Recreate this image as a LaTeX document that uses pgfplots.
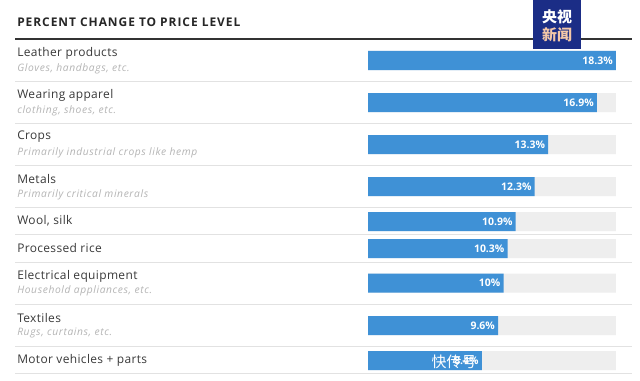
\documentclass[border=0pt]{standalone}
\usepackage{pgfplots}
\pgfplotsset{compat=1.18}
\usepackage{fontspec}
\setmainfont{Open Sans}
\newfontfamily\cjk{Noto Sans CJK SC}
\definecolor{barblue}{HTML}{3F91D6}
\definecolor{track}{HTML}{EEEEEE}
\definecolor{sep}{HTML}{E2E2E2}
\definecolor{labc}{HTML}{3A3A3A}
\definecolor{subc}{HTML}{B4B4B4}
\definecolor{navy}{HTML}{1B2D86}
\definecolor{peach}{HTML}{F3C7A8}
\newcommand\lab[2]{\node[anchor=west,inner sep=0pt,text=labc,font=\fontsize{12}{13}\selectfont\addfontfeature{LetterSpace=3}] at (axis cs:-25.9,#1) {#2};}
\newcommand\sub[2]{\node[anchor=west,inner sep=0pt,text=subc,font=\itshape\fontsize{10.3}{11}\selectfont\addfontfeature{LetterSpace=6}] at (axis cs:-25.9,#1) {#2};}
\newcommand\sep[1]{\draw[sep,line width=1bp] (axis cs:-26.05,#1) -- (axis cs:19.48,#1);}
\begin{document}
\begin{tikzpicture}
\begin{axis}[
  width=640bp, height=381bp, scale only axis,
  xmin=-27.159, xmax=20.074, ymin=0, ymax=381, y dir=reverse,
  hide axis, clip=false,
  xbar, bar width=19bp, bar shift=0pt,
]
\fill[white] (rel axis cs:0,0) rectangle (rel axis cs:1,1);
% grey tracks
\addplot[xbar, fill=track, draw=none] coordinates {
(18.3,60.5) (18.3,102.5) (18.3,144.5) (18.3,186.5) (18.3,221.5) (18.3,248.5) (18.3,283) (18.3,325.5) (18.3,360.5)};
% values
\addplot[xbar, fill=barblue, draw=none,
  point meta=explicit symbolic,
  nodes near coords,
  nodes near coords style={anchor=east, xshift=-2bp, inner sep=1bp, text=white, font=\bfseries\fontsize{10.5}{11}\selectfont}]
coordinates {
(18.3,60.5) [18.3\%]
(16.9,102.5) [16.9\%]
(13.3,144.5) [13.3\%]
(12.3,186.5) [12.3\%]
(10.9,221.5) [10.9\%]
(10.3,248.5) [10.3\%]
(10,283) [10\%]
(9.6,325.5) [9.6\%]
(8.4,360.5) [8.4\%]
};
% title and rule
\node[anchor=west,inner sep=0pt,text=black!85,font=\bfseries\fontsize{12}{12}\selectfont\addfontfeature{LetterSpace=8}] at (axis cs:-25.9,22.5) {PERCENT CHANGE TO PRICE LEVEL};
\draw[black!80,line width=1.2bp] (axis cs:-26.05,39) -- (axis cs:19.48,39);
% separators
\sep{81}\sep{123}\sep{165}\sep{207}\sep{234}\sep{262}\sep{304}\sep{346}\sep{373}
% labels
\lab{53}{Leather products}
\sub{69}{Gloves, handbags, etc.}
\lab{95.5}{Wearing apparel}
\sub{110.5}{clothing, shoes, etc.}
\lab{137}{Crops}
\sub{153}{Primarily industrial crops like hemp}
\lab{179.5}{Metals}
\sub{194.5}{Primarily critical minerals}
\lab{221}{Wool, silk}
\lab{248}{Processed rice}
\lab{276}{Electrical equipment}
\sub{291}{Household appliances, etc.}
\lab{318}{Textiles}
\sub{333}{Rugs, curtains, etc.}
\lab{360}{Motor vehicles + parts}
% logo watermark
\fill[navy] (axis cs:12.177,0) rectangle (axis cs:15.720,49);
\node[inner sep=0pt,text=white,font=\cjk\bfseries\fontsize{15}{15}\selectfont] at (axis cs:13.95,17) {央视};
\node[inner sep=0pt,text=peach,font=\cjk\bfseries\fontsize{15}{15}\selectfont] at (axis cs:13.95,35) {新闻};
\node[inner sep=0pt,text=white,font=\cjk\fontsize{15}{15}\selectfont] at (axis cs:6.35,362) {快传号};
\end{axis}
\end{tikzpicture}
\end{document}
